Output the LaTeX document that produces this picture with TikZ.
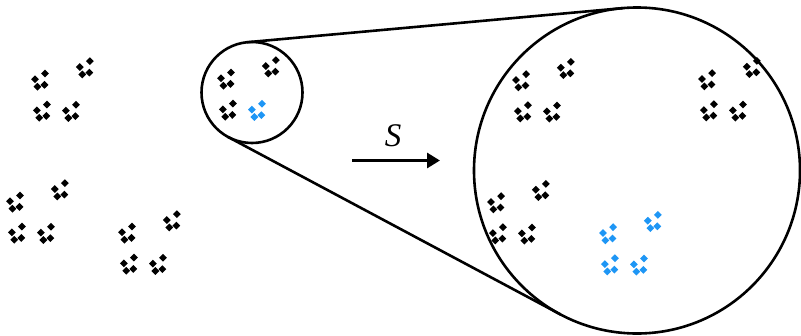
\documentclass[tikz,border=0pt]{standalone}
\usepackage{fontspec}
\setmainfont{Liberation Serif}
\usetikzlibrary{arrows.meta,calc}
\definecolor{fracblue}{RGB}{30,150,245}
\tikzset{
  ring/.style={circle,draw=black,line width=2.6pt,inner sep=0pt,outer sep=0pt},
  tangentline/.style={line width=2.6pt,line cap=round},
  maparrow/.style={line width=3pt,-{Triangle[length=13pt,width=15pt]}},
}
\newcommand\dshape{(3.9,0)--(0,3.9)--(-3.9,0)--(0,-3.9)--cycle}
% #1 origin, #2 mode: 1 = one blue glyph (group 2, glyph 4); 2 = blue group 4
\newcommand\fractal[2]{%
\begin{scope}[shift={#1}]
\foreach \a/\b [count=\i] in {0/0,186/-1,-25/122,87/153}{
  \begin{scope}[shift={(\a,\b)},scale=.25,rotate=15]
  \foreach \c/\d [count=\j] in {0/0,186/-1,-25/122,87/153}{
    \begin{scope}[shift={(\c,\d)},scale=.25,rotate=15]
    \def\fcol{black}%
    \ifnum#2=1 \ifnum\i=2 \ifnum\j=4 \def\fcol{fracblue}\fi\fi\fi
    \ifnum#2=2 \ifnum\i=4 \def\fcol{fracblue}\fi\fi
    \foreach \e/\f in {0/0,186/-1,-25/122,87/153}{
      \fill[\fcol,shift={(\e,\f)},rotate=-30,scale=16] \dshape;
    }
    \end{scope}
  }
  \end{scope}
}
\end{scope}}
\begin{document}
\begin{tikzpicture}[x=1pt,y=-1pt]
\useasboundingbox (0,0) rectangle (801,335);
% left fractal and magnified copy
\fractal{(35,79.3)}{1}
\fractal{(516,80)}{2}
% circles
\node[ring,minimum size=101pt] (lens) at (252,92.5) {};
\node[ring,minimum size=326pt] (zoom) at (637,170.5) {};
% tangent connectors
\draw[tangentline] (lens.95.19) -- (zoom.95.19);
\draw[tangentline] (lens.-118.09) -- (zoom.-118.09);
% map arrow
\coordinate (arrowtail) at (352,160.5);
\coordinate (arrowhead) at (440,160.5);
\draw[maparrow] (arrowtail) -- (arrowhead);
\node (slabel) at (393,136) {\fontsize{33}{33}\selectfont\itshape S};
\end{tikzpicture}
\end{document}
